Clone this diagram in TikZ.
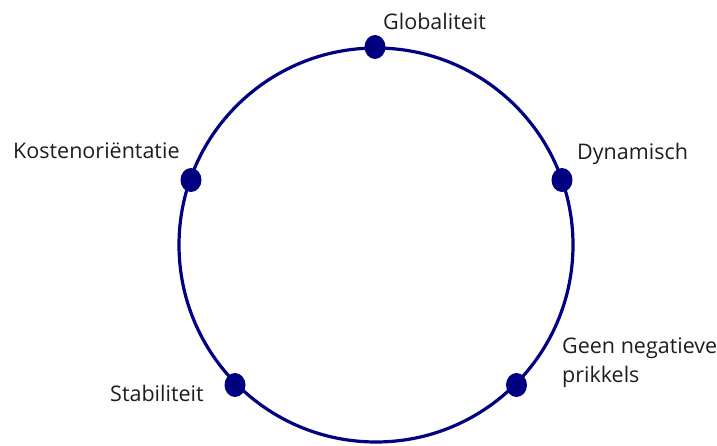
\documentclass[tikz,border=0pt]{standalone}
\usepackage{fontspec}
\setmainfont{Open Sans}
\usetikzlibrary{shapes.geometric}
\definecolor{navy}{RGB}{0,0,128}
\definecolor{txt}{RGB}{30,30,30}
\begin{document}
\begin{tikzpicture}[x=1pt,y=1pt,
  dot/.style={ellipse,fill=navy,inner sep=0pt,minimum width=21pt,minimum height=24pt},
  lbl/.style={inner sep=0pt,text=txt,font=\fontsize{21.5}{29}\selectfont,anchor=base west,align=left}]
\useasboundingbox (0,0) rectangle (717,445);
\draw[navy,line width=3.2pt] (376,200) circle[radius=197];
\node[dot] (d1) at (375,398) {};
\node[dot] (d2) at (562,265) {};
\node[dot] (d3) at (191,265) {};
\node[dot] (d4) at (235,60) {};
\node[dot] (d5) at (516.5,60) {};
\node[lbl] (t1) at (383,415) {Globaliteit};
\node[lbl] (t2) at (577,285) {Dynamisch};
\node[lbl] (t3) at (13,286) {Kostenoriëntatie};
\node[lbl] (t4) at (110,44) {Stabiliteit};
\node[lbl] (t5) at (562,63) {Geen negatieve\\prikkels};
\end{tikzpicture}
\end{document}
